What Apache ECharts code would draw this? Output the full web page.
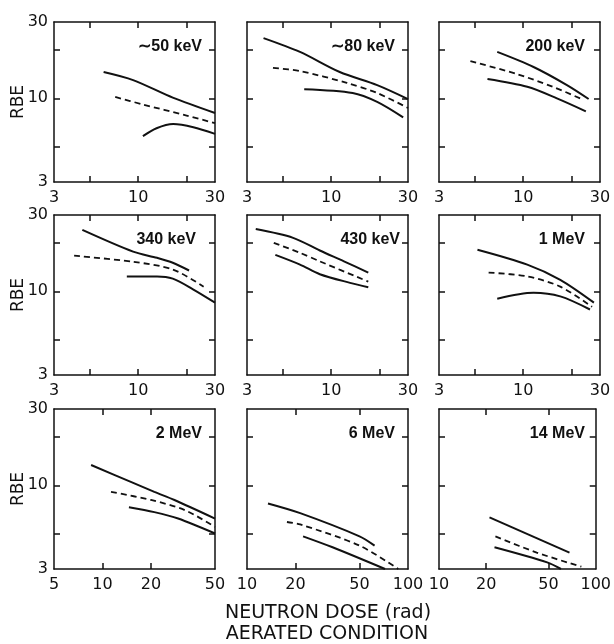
<!DOCTYPE html>
<html>
<head>
<meta charset="utf-8">
<script src="https://cdn.jsdelivr.net/npm/echarts@6/dist/echarts.min.js"></script>
<style>
html, body { margin: 0; padding: 0; background: #fff; }
#chart { width: 614px; height: 644px; }
</style>
</head>
<body>
<div id="chart"></div>
<script>
// panel names, reading order (row by row)
var panels = ['\u223C50 keV', '\u223C80 keV', '200 keV', '340 keV', '430 keV', '1 MeV', '2 MeV', '6 MeV', '14 MeV'];

// x (dose, rad) ranges per panel
var xMin = [3, 3, 3, 3, 3, 3, 5, 10, 10];
var xMax = [30, 30, 30, 30, 30, 30, 50, 100, 100];
var xLabels = [
  [3, 10, 30], [3, 10, 30], [3, 10, 30],
  [3, 10, 30], [3, 10, 30], [3, 10, 30],
  [5, 10, 20, 50], [10, 20, 50, 100], [10, 20, 50, 100]
];
var xTicks = [
  [5, 10, 20], [5, 10, 20], [5, 10, 20],
  [5, 10, 20], [5, 10, 20], [5, 10, 20],
  [10, 20], [20, 50], [20, 50]
];
// RBE axis
var yLabels = [3, 10, 30];
var yTicks = [5, 10, 20];

// upper solid curve  [dose, RBE]
var upper = [
  [[6.1, 14.6], [9.3, 13.0], [16.4, 10.1], [30, 8.1]],
  [[3.8, 23.8], [6.4, 19.5], [11.3, 14.6], [19.3, 12.1], [30, 9.9]],
  [[6.9, 19.5], [11.6, 15.7], [18.7, 12.1], [25.5, 9.9]],
  [[4.5, 24.2], [9.3, 17.7], [13.1, 16.2], [16.4, 15.1], [20.7, 13.5]],
  [[3.4, 24.5], [5.8, 21.6], [8.5, 18.0], [12, 15.4], [17, 13.1]],
  [[5.2, 18.2], [10.6, 14.7], [17, 11.8], [27.5, 8.5]],
  [[8.5, 13.4], [15, 10.5], [21, 9.1], [28, 8.1], [50, 6.2]],
  [[13.5, 7.7], [21.4, 6.7], [50, 4.8], [62, 4.2]],
  [[21, 6.3], [68, 3.8]]
];
// dashed middle curve
var dashed = [
  [[7.2, 10.2], [10.5, 9.2], [20, 7.8], [30, 7.0]],
  [[4.35, 15.5], [6.4, 14.8], [12.5, 12.5], [19.3, 10.8], [30, 8.7]],
  [[4.7, 17.1], [9.1, 14.2], [15.3, 11.8], [23.6, 9.8]],
  [[4.0, 16.7], [9.3, 15.3], [16.4, 13.7], [25.5, 10.7]],
  [[4.4, 20.1], [6.4, 17.4], [8.5, 15.4], [17, 11.5]],
  [[6.1, 13.1], [10.6, 12.4], [17, 10.7], [26.8, 8.0]],
  [[11.3, 9.1], [20, 8.1], [32.5, 7.0], [50, 5.5]],
  [[17.7, 5.9], [21.4, 5.7], [50, 4.2], [87, 3.0]],
  [[22.9, 4.8], [42, 3.8], [81, 3.1]]
];
// lower solid curve
var lower = [
  [[10.7, 5.8], [13, 6.5], [16.5, 6.9], [22, 6.6], [30, 6.0]],
  [[6.8, 11.4], [13.6, 10.8], [19.3, 9.5], [28, 7.6]],
  [[6.0, 13.2], [10.6, 11.8], [16.2, 10.0], [24.5, 8.3]],
  [[8.5, 12.4], [13.1, 12.4], [16.4, 12.0], [21.9, 10.3], [30, 8.5]],
  [[4.5, 16.9], [6.4, 14.7], [8.5, 12.8], [13.1, 11.3], [17, 10.6]],
  [[6.9, 9.0], [11.6, 9.8], [17, 9.3], [26, 7.7]],
  [[14.6, 7.3], [21, 6.8], [29.5, 6.2], [50, 5.0]],
  [[22.3, 4.8], [34, 4.1], [72, 3.0]],
  [[22.6, 4.1], [49, 3.3], [60, 3.0]]
];

var colLeft = [54, 247, 439];
var rowTop = [22, 215, 409];
var W = 161, H = 160;
var labelRight = [13, 13, 15, 19, 8, 15, 13, 13, 15];

var ink = '#111';
var grids = [], xAxes = [], yAxes = [], series = [], graphics = [];

for (var i = 0; i < 9; i++) {
  var r = Math.floor(i / 3), c = i % 3;
  grids.push({ left: colLeft[c], top: rowTop[r], width: W, height: H, show: false });

  var tickStyle = { show: true, inside: true, length: 6, lineStyle: { color: ink, width: 1.5 } };
  // bottom axis with labels
  xAxes.push({
    type: 'log', gridIndex: i, min: xMin[i], max: xMax[i], position: 'bottom',
    axisLine: { show: true, onZero: false, lineStyle: { color: ink, width: 1.5 } },
    axisTick: Object.assign({ customValues: xTicks[i] }, tickStyle),
    axisLabel: { customValues: xLabels[i], color: ink, fontSize: 16, fontFamily: 'DejaVu Sans', margin: 8, showMinLabel: true, showMaxLabel: true },
    splitLine: { show: false }
  });
  yAxes.push({
    type: 'log', gridIndex: i, min: 3, max: 30, position: 'left',
    axisLine: { show: true, onZero: false, lineStyle: { color: ink, width: 1.5 } },
    axisTick: Object.assign({ customValues: yTicks }, tickStyle),
    axisLabel: { show: c === 0, customValues: yLabels, color: ink, fontSize: 16, fontFamily: 'DejaVu Sans', margin: 6 },
    splitLine: { show: false }
  });

  series.push({ type: 'line', xAxisIndex: i, yAxisIndex: i, data: upper[i], showSymbol: false, smooth: 0.3, silent: true,
    lineStyle: { color: ink, width: 2 } });
  series.push({ type: 'line', xAxisIndex: i, yAxisIndex: i, data: dashed[i], showSymbol: false, smooth: 0.3, silent: true,
    lineStyle: { color: ink, width: 1.8, type: [6, 4] } });
  series.push({ type: 'line', xAxisIndex: i, yAxisIndex: i, data: lower[i], showSymbol: false, smooth: 0.3, silent: true,
    lineStyle: { color: ink, width: 2 } });

  graphics.push({
    type: 'text', right: 614 - (colLeft[c] + W) + labelRight[i], top: rowTop[r] + 17,
    style: { text: panels[i], font: 'bold 16px "Liberation Sans"', fill: ink }
  });
}

// top and right axes: frame + inner ticks only
for (var j = 0; j < 9; j++) {
  var tickStyle2 = { show: true, inside: true, length: 6, lineStyle: { color: ink, width: 1.5 } };
  xAxes.push({
    type: 'log', gridIndex: j, min: xMin[j], max: xMax[j], position: 'top',
    axisLine: { show: true, onZero: false, lineStyle: { color: ink, width: 1.5 } },
    axisTick: Object.assign({ customValues: xTicks[j] }, tickStyle2),
    axisLabel: { show: false }, splitLine: { show: false }
  });
  yAxes.push({
    type: 'log', gridIndex: j, min: 3, max: 30, position: 'right',
    axisLine: { show: true, onZero: false, lineStyle: { color: ink, width: 1.5 } },
    axisTick: Object.assign({ customValues: yTicks }, tickStyle2),
    axisLabel: { show: false }, splitLine: { show: false }
  });
}

for (var k = 0; k < 3; k++) {
  graphics.push({
    type: 'text', x: 19, y: rowTop[k] + 80, rotation: Math.PI / 2,
    style: { text: 'RBE', font: '17px "DejaVu Sans"', fill: ink, align: 'center', verticalAlign: 'middle' }
  });
}
graphics.push({
  type: 'text', x: 328, y: 613,
  style: { text: 'NEUTRON DOSE (rad)', font: '19px "DejaVu Sans"', fill: ink, align: 'center', verticalAlign: 'middle' }
});
graphics.push({
  type: 'text', x: 327, y: 634,
  style: { text: 'AERATED CONDITION', font: '19px "DejaVu Sans"', fill: ink, align: 'center', verticalAlign: 'middle' }
});

var chart = echarts.init(document.getElementById('chart'));
chart.setOption({
  animation: false,
  backgroundColor: '#fff',
  grid: grids,
  xAxis: xAxes,
  yAxis: yAxes,
  series: series,
  graphic: graphics
});
window.addEventListener('resize', function () { chart.resize(); });
</script>
</body>
</html>
